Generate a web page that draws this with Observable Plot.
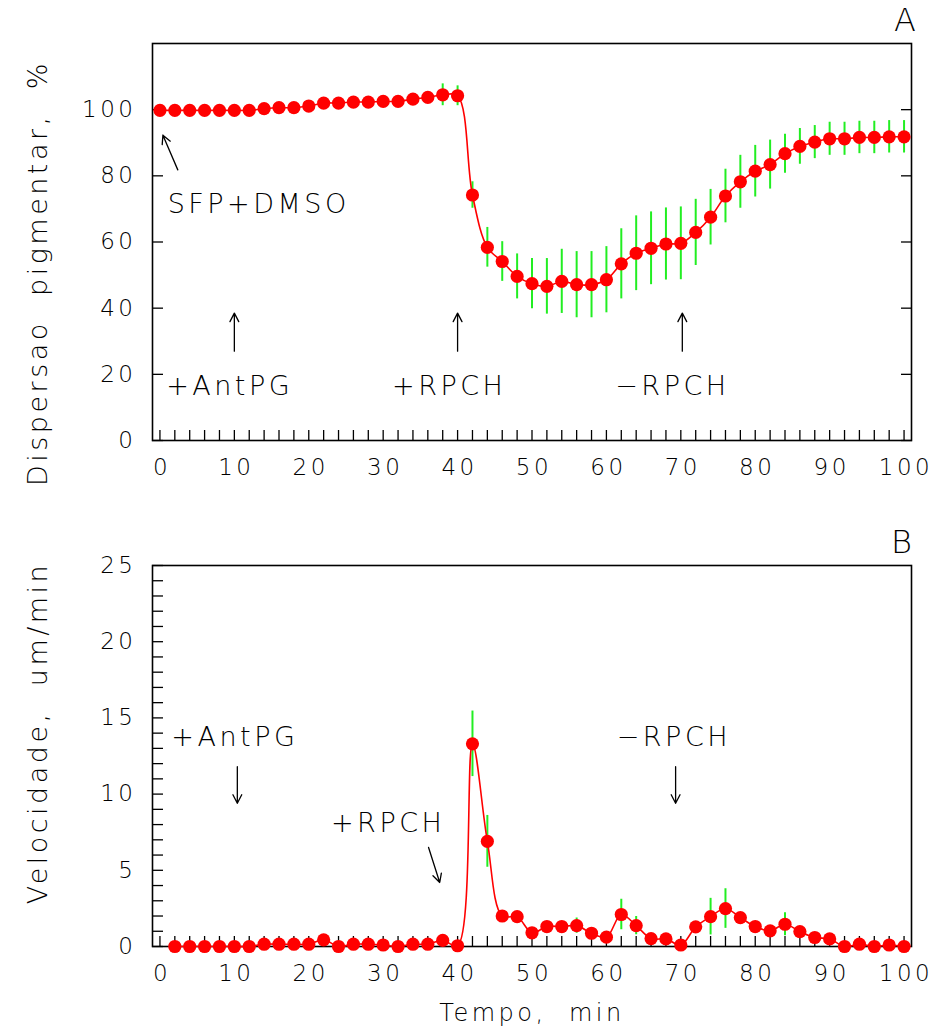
<!DOCTYPE html>
<html><head><meta charset="utf-8">
<script src="https://cdn.jsdelivr.net/npm/d3@7"></script>
<script src="https://cdn.jsdelivr.net/npm/@observablehq/plot@0.6"></script>
<style>
body{margin:0;background:#fff;}
#chart svg{display:block;}
#chart text{letter-spacing:3.5px;}
</style></head><body><div id="chart"></div>
<script>
// Panel A: pigment dispersion (%)
const timeA = [0,2,4,6,8,10,12,14,16,18,20,22,24,26,28,30,32,34,36,38,40,42,44,46,48,50,52,54,56,58,60,62,64,66,68,70,72,74,76,78,80,82,84,86,88,90,92,94,96,98,100];
const dispersion = [99.8,99.8,99.8,99.8,99.8,99.8,99.8,100.3,100.6,100.6,101.1,102.0,102.0,102.3,102.3,102.5,102.5,103.2,103.7,104.5,104.2,74.2,58.4,54.1,49.6,47.4,46.6,48.1,47.1,47.1,48.6,53.4,56.6,58.1,59.4,59.6,62.9,67.5,73.9,78.2,81.4,83.4,86.7,88.9,90.2,91.2,91.2,91.6,91.6,91.8,91.8];
const dispersionErr = [0.5,0.5,0.5,0.5,0.5,0.5,0.5,0.5,0.5,0.5,0.5,0.5,0.5,0.5,0.5,0.5,0.5,0.5,0.5,3.3,3.0,4.0,6.0,6.0,6.8,7.6,8.4,9.7,10,10,10,10.6,11.3,11,10.9,11,10,8.4,8.1,8,7.8,7.4,5.9,5.4,5,5,5,4.9,4.9,4.9,4.9];

// Panel B: velocity (um/min)
const timeB = [2,4,6,8,10,12,14,16,18,20,22,24,26,28,30,32,34,36,38,40,42,44,46,48,50,52,54,56,58,60,62,64,66,68,70,72,74,76,78,80,82,84,86,88,90,92,94,96,98,100];
const velocity = [0,0,0,0,0,0,0.15,0.15,0.15,0.15,0.44,0,0.15,0.15,0.1,0,0.15,0.15,0.4,0.05,13.3,6.9,2.0,1.96,0.9,1.31,1.31,1.37,0.87,0.61,2.1,1.37,0.52,0.5,0.1,1.29,1.96,2.49,1.9,1.31,1.03,1.46,0.98,0.59,0.5,0,0.15,0,0.1,0];
const velocityErr = [0,0,0,0,0,0,0,0,0,0,0,0,0,0,0,0,0,0,0,0,2.15,1.7,0.3,0.2,0.3,0.2,0.2,0.5,0.2,0.3,1.0,0.6,0.2,0.1,0.1,0.2,1.2,1.3,0.2,0.2,0.2,0.75,0.2,0.1,0.1,0,0,0,0,0];

// tick labels
const xLabels = [0,10,20,30,40,50,60,70,80,90,100];
const yLabelsA = [0,20,40,60,80,100];
const yLabelsB = [0,5,10,15,20,25];

// annotations
const notesA = [
  {x: 13.0, y: 71.3, text: "SFP+DMSO"},
  {x: 9.1, y: 16.5, text: "+AntPG"},
  {x: 38.6, y: 16.5, text: "+RPCH"},
  {x: 68.6, y: 16.5, text: "\u2212RPCH"}
];
const arrowsA = [
  {x1: 2.4, y1: 81.8, x2: 0.4, y2: 92.3},
  {x1: 10, y1: 27, x2: 10, y2: 38.5},
  {x1: 40, y1: 27, x2: 40, y2: 38.5},
  {x1: 70.2, y1: 27, x2: 70.2, y2: 38.5}
];
const notesB = [
  {x: 9.8, y: 13.7, text: "+AntPG"},
  {x: 30.4, y: 8.1, text: "+RPCH"},
  {x: 68.8, y: 13.7, text: "\u2212RPCH"}
];
const arrowsB = [
  {x1: 10.4, y1: 11.8, x2: 10.4, y2: 9.4},
  {x1: 36.1, y1: 6.5, x2: 37.6, y2: 4.2},
  {x1: 69.3, y1: 11.8, x2: 69.3, y2: 9.4}
];

const dataA = timeA.map((t, i) => ({t, v: dispersion[i], e: dispersionErr[i]}));
const dataB = timeB.map((t, i) => ({t, v: velocity[i], e: velocityErr[i]}));

const red = "#ff0000", green = "#22ee22";
const font = "'DejaVu Sans', sans-serif";
const common = {
  width: 941, marginLeft: 152, marginRight: 30,
  x: {domain: [-1, 101]},
  style: {fontFamily: font, fontSize: "23px", fontWeight: 200, color: "#000", background: "#fff", overflow: "visible"}
};
const xMinor = d3.range(0, 101, 2);

function panel(data, opts) {
  return Plot.plot({
    ...common,
    height: opts.height, marginTop: opts.marginTop, marginBottom: opts.marginBottom,
    y: {domain: opts.yDomain},
    marks: [
      Plot.axisX({ticks: xMinor, tickSize: -10, tickFormat: () => "", label: null, strokeWidth: 1.3}),
      Plot.axisX({ticks: xLabels, tickSize: 0, tickPadding: 18, dx: 2, label: null}),
      Plot.axisY({ticks: opts.yMinor, tickSize: -11, tickFormat: () => "", label: null, strokeWidth: 1.3}),
      Plot.axisY({ticks: opts.yLabels, tickSize: 0, tickPadding: 16, label: null}),
      opts.rightTicks ? Plot.axisY({anchor: "right", ticks: opts.yLabels, tickSize: -11, tickFormat: () => "", label: null, strokeWidth: 1.3}) : null,
      Plot.frame({stroke: "#000", strokeWidth: 1.6}),
      Plot.ruleX(data.filter(d => d.e > 0), {x: "t", y1: d => d.v - d.e, y2: d => d.v + d.e, stroke: green, strokeWidth: 2}),
      Plot.line(data, {x: "t", y: "v", stroke: red, strokeWidth: 1.6, curve: "catmull-rom"}),
      Plot.dot(data, {x: "t", y: "v", r: 6.6, fill: red}),
      Plot.arrow(opts.arrows, {x1: "x1", y1: "y1", x2: "x2", y2: "y2", stroke: "#000", strokeWidth: 1.3, headLength: 11, headAngle: 55}),
      Plot.text(opts.notes, {x: "x", y: "y", text: "text", fontSize: 27, textAnchor: "middle", dx: 2}),
      Plot.text([opts.letter], {frameAnchor: "top-right", lineAnchor: "middle", dx: opts.letterDx, dy: -23, fontSize: 32, textAnchor: "end"}),
      Plot.text([opts.ylabel], {frameAnchor: "left", lineAnchor: "middle", dx: -114, dy: opts.ylabelDy, rotate: -90, fontSize: 27, textAnchor: "middle"}),
      opts.xlabel ? Plot.text([opts.xlabel], {frameAnchor: "bottom", lineAnchor: "middle", dy: 67, fontSize: 24, textAnchor: "middle"}) : null
    ]
  });
}

const topPlot = panel(dataA, {
  height: 490, marginTop: 43, marginBottom: 50, yDomain: [0, 120],
  yMinor: yLabelsA, yLabels: yLabelsA, rightTicks: true,
  arrows: arrowsA, notes: notesA, letter: "A", letterDx: 8,
  ylabel: "Dispersao  pigmentar,  %", ylabelDy: 31
});
const botPlot = panel(dataB, {
  height: 545, marginTop: 75, marginBottom: 89, yDomain: [0, 25],
  yMinor: d3.range(0, 26, 1), yLabels: yLabelsB, rightTicks: false,
  arrows: arrowsB, notes: notesB, letter: "B", letterDx: 4,
  ylabel: "Velocidade,  um/min", ylabelDy: -23, xlabel: "Tempo,  min"
});
document.getElementById("chart").append(topPlot, botPlot);
</script></body></html>
